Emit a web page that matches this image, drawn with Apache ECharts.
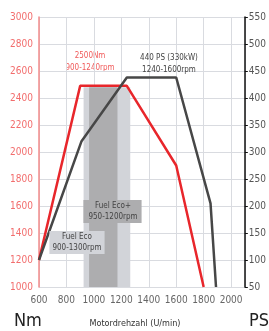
<!DOCTYPE html>
<html><head><meta charset="utf-8">
<script src="https://cdn.jsdelivr.net/npm/echarts@6/dist/echarts.min.js"></script>
<style>html,body{margin:0;padding:0;background:#fff}#c{width:269px;height:331px}</style>
</head><body><div id="c"></div>
<script>
const torqueRpm = [600, 900, 1240, 1600, 1800];
const torqueNm = [1200, 2490, 2490, 1900, 1000];
const powerRpm = [600, 910, 1240, 1600, 1850, 1890];
const powerPS = [100, 320, 438, 438, 205, 50];
const ecoBand = [925, 1265];
const ecoPlusBand = [965, 1172];
const bandTop = 2480;
const FONT = '"Liberation Sans Narrow","DejaVu Sans Condensed",sans-serif';
const CF = '8px ' + FONT;

const chart = echarts.init(document.getElementById('c'));
chart.setOption({
  animation: false,
  grid: {left: 39, right: 20, top: 17, bottom: 44},
  xAxis: {
    type: 'value', min: 600, max: 2100, interval: 200,
    axisLine: {show: false}, axisTick: {show: false},
    axisLabel: {color: '#666', fontSize: 10, fontFamily: FONT, margin: 8,
      formatter: v => v > 2000 ? '' : String(v)},
    splitLine: {lineStyle: {color: '#d9dbe0', width: 1}}
  },
  yAxis: [{
    type: 'value', min: 1000, max: 3000, interval: 200, position: 'left',
    axisLine: {show: true, lineStyle: {color: '#f28b8b', width: 1.5}},
    axisTick: {show: false},
    axisLabel: {color: '#f26d6d', fontSize: 10, fontFamily: FONT, margin: 6, formatter: v => String(v)},
    splitLine: {lineStyle: {color: '#d9dbe0', width: 1}}
  }, {
    type: 'value', min: 50, max: 550, interval: 50, position: 'right',
    axisLine: {show: true, lineStyle: {color: '#111', width: 1.5}},
    axisTick: {show: true, length: 3, lineStyle: {color: '#111'}},
    axisLabel: {color: '#555', fontSize: 10, fontFamily: FONT, margin: 4, formatter: v => String(v)},
    splitLine: {show: false}
  }],
  series: [{
    type: 'line', yAxisIndex: 0, symbol: 'none', z: 3,
    data: torqueRpm.map((r, i) => [r, torqueNm[i]]),
    lineStyle: {color: '#e8262b', width: 2.5},
    markArea: {silent: true, z: 1, data: [
      [{xAxis: ecoBand[0], yAxis: 1000, itemStyle: {color: '#d2d4d9'}}, {xAxis: ecoBand[1], yAxis: bandTop}],
      [{xAxis: ecoPlusBand[0], yAxis: 1000, itemStyle: {color: '#adadaf'}}, {xAxis: ecoPlusBand[1], yAxis: bandTop}]
    ]}
  }, {
    type: 'line', yAxisIndex: 1, symbol: 'none', z: 4,
    data: powerRpm.map((r, i) => [r, powerPS[i]]),
    lineStyle: {color: '#474747', width: 2.5}
  }],
  graphic: [
    {type: 'text', position: [90, 50], style: {text: '2500Nm\n900-1240rpm', fill: '#f05a5a', font: CF, textAlign: 'center', lineHeight: 12}},
    {type: 'text', position: [169, 52], style: {text: '440 PS (330kW)\n1240-1600rpm', fill: '#444', font: CF, textAlign: 'center', lineHeight: 12}, z: 10},
    {type: 'text', position: [112.5, 200], z: 10, style: {text: 'Fuel Eco+\n950-1200rpm', fill: '#444', font: CF, textAlign: 'center', lineHeight: 11.5, backgroundColor: '#adadaf', padding: [0, 4, 0, 5]}},
    {type: 'text', position: [77, 231], z: 10, style: {text: 'Fuel Eco\n900-1300rpm', fill: '#444', font: CF, textAlign: 'center', lineHeight: 11.5, backgroundColor: '#d2d4d9', padding: [0, 3, 0, 3]}},
    {type: 'text', position: [14, 312], style: {text: 'Nm', fill: '#222', font: '18px ' + FONT}},
    {type: 'text', position: [135, 319], style: {text: 'Motordrehzahl (U/min)', fill: '#333', font: '9px ' + FONT, textAlign: 'center'}},
    {type: 'text', position: [249, 312], style: {text: 'PS', fill: '#222', font: '18px ' + FONT}}
  ]
});
</script></body></html>
